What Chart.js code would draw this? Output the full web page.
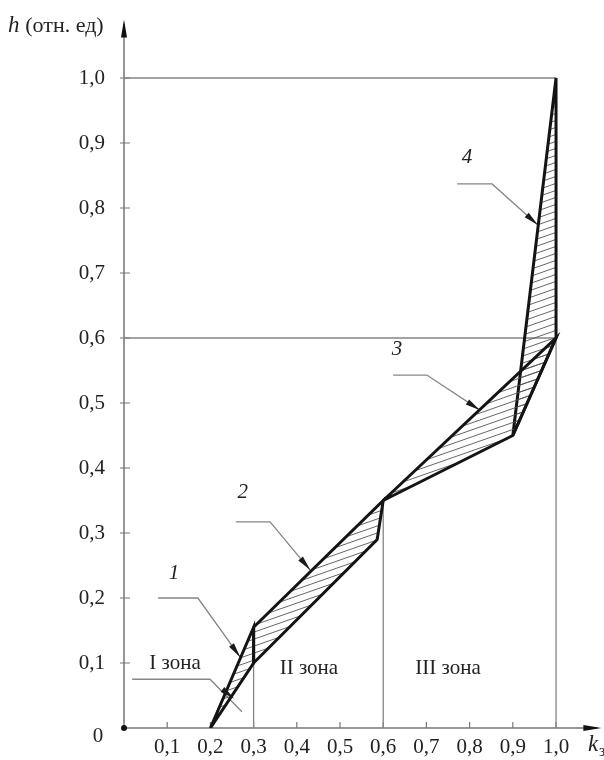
<!DOCTYPE html>
<html>
<head>
<meta charset="utf-8">
<script src="https://cdn.jsdelivr.net/npm/chart.js@4.4.1/dist/chart.umd.min.js"></script>
<style>
    html, body { margin: 0; background: #fff; }
    #wrap { width: 604px; height: 760px; position: relative; }
</style>
</head>
<body>
<div id="wrap"><canvas id="chart"></canvas></div>
<script>
// --- оси и подписи делений ---
const xTicks = [0.1, 0.2, 0.3, 0.4, 0.5, 0.6, 0.7, 0.8, 0.9, 1.0];
const xTickLabels = ['0,1', '0,2', '0,3', '0,4', '0,5', '0,6', '0,7', '0,8', '0,9', '1,0'];
const yTicks = [0.1, 0.2, 0.3, 0.4, 0.5, 0.6, 0.7, 0.8, 0.9, 1.0];
const yTickLabels = ['0,1', '0,2', '0,3', '0,4', '0,5', '0,6', '0,7', '0,8', '0,9', '1,0'];
const X_MAX = 1.105;
const Y_MAX = 1.09;

// --- заштрихованные области 1..4 (k, h), контур замкнут ---
const zone1K = [0.2, 0.3, 0.3, 0.2];
const zone1H = [0, 0.155, 0.1, 0];
const zone2K = [0.3, 0.6, 0.586, 0.3, 0.3];
const zone2H = [0.155, 0.35, 0.29, 0.1, 0.155];
const zone3K = [0.6, 1.0, 0.9, 0.6];
const zone3H = [0.35, 0.6, 0.45, 0.35];
const zone4K = [0.9, 1.0, 1.0, 0.9];
const zone4H = [0.45, 1.0, 0.6, 0.45];

// --- тонкие вспомогательные линии ---
const guideTopK = [0, 1.0];      const guideTopH = [1.0, 1.0];
const guideMidK = [0, 1.0];      const guideMidH = [0.6, 0.6];
const guideRightK = [1.0, 1.0];  const guideRightH = [0, 1.0];
const guide03K = [0.3, 0.3];     const guide03H = [0, 0.155];
const guide06K = [0.6, 0.6];     const guide06H = [0, 0.35];

// --- выноски ---
const leader1K = [0.079, 0.171, 0.269];  const leader1H = [0.2, 0.2, 0.109];
const leader2K = [0.259, 0.338, 0.431];  const leader2H = [0.317, 0.317, 0.243];
const leader3K = [0.623, 0.701, 0.824];  const leader3H = [0.543, 0.543, 0.489];
const leader4K = [0.771, 0.852, 0.958];  const leader4H = [0.837, 0.837, 0.774];
const leaderIK = [0.019, 0.199, 0.273];  const leaderIH = [0.075, 0.075, 0.025];
const arrowTipK = [0.269, 0.431, 0.824, 0.958, 0.255];
const arrowTipH = [0.109, 0.243, 0.489, 0.774, 0.045];

// --- надписи ---
const curveLabels = ['1', '2', '3', '4'];
const curveLabelK = [0.116, 0.275, 0.632, 0.794];
const curveLabelH = [0.237, 0.362, 0.583, 0.877];
const zoneLabels = ['I зона', 'II зона', 'III зона'];
const zoneLabelK = [0.118, 0.428, 0.75];
const zoneLabelH = [0.1, 0.091, 0.091];

const SERIF = "'Liberation Serif', 'DejaVu Serif', serif";
const BOLD = '#141414';
const GRAY = '#858585';

const pts = (ks, hs) => ks.map((k, i) => ({ x: k, y: hs[i] }));

function makeHatch(ctx) {
    const W = 20, H = 7;
    const c = document.createElement('canvas');
    c.width = W; c.height = H;
    const g = c.getContext('2d');
    g.strokeStyle = '#555';
    g.lineWidth = 0.9;
    for (let k = -1; k <= 1; k++) {
        g.beginPath();
        g.moveTo(0, H + k * H);
        g.lineTo(W, k * H);
        g.stroke();
    }
    return ctx.createPattern(c, 'repeat');
}

function arrowHead(ctx, x0, y0, x1, y1, len, half) {
    const a = Math.atan2(y1 - y0, x1 - x0);
    ctx.save();
    ctx.translate(x1, y1);
    ctx.rotate(a);
    ctx.beginPath();
    ctx.moveTo(0, 0);
    ctx.lineTo(-len, -half);
    ctx.lineTo(-len, half);
    ctx.closePath();
    ctx.fill();
    ctx.restore();
}

const canvas = document.getElementById('chart');
const hatch = makeHatch(canvas.getContext('2d'));

function zoneDataset(ks, hs) {
    return {
        data: pts(ks, hs),
        showLine: true,
        fill: 'shape',
        backgroundColor: hatch,
        borderColor: BOLD,
        borderWidth: 3,
        borderJoinStyle: 'miter',
        pointRadius: 0,
        order: 1
    };
}

function thinDataset(ks, hs) {
    return {
        data: pts(ks, hs),
        showLine: true,
        fill: false,
        borderColor: GRAY,
        borderWidth: 1.3,
        pointRadius: 0,
        order: 5
    };
}

// оси, деления, стрелки и надписи
const annotations = {
    id: 'annotations',
    beforeDatasetsDraw(chart) {
        const { ctx, chartArea: a, scales: { x, y } } = chart;
        const x0 = x.getPixelForValue(0), y0 = y.getPixelForValue(0);
        ctx.save();
        ctx.strokeStyle = '#777';
        ctx.lineWidth = 1.5;
        ctx.beginPath();
        ctx.moveTo(x0, y0); ctx.lineTo(a.right - 4, y0);
        ctx.moveTo(x0, y0); ctx.lineTo(x0, a.top + 4);
        ctx.stroke();
        ctx.lineWidth = 1.2;
        ctx.beginPath();
        xTicks.forEach(v => { const px = x.getPixelForValue(v); ctx.moveTo(px, y0); ctx.lineTo(px, y0 - 6); });
        yTicks.forEach(v => { const py = y.getPixelForValue(v); ctx.moveTo(x0 - 4, py); ctx.lineTo(x0 + 6, py); });
        ctx.stroke();
        ctx.fillStyle = '#111';
        arrowHead(ctx, x0, y0, a.right, y0, 18, 3);
        arrowHead(ctx, x0, y0, x0, a.top, 18, 3);
        ctx.beginPath();
        ctx.arc(x0, y0, 3, 0, Math.PI * 2);
        ctx.fill();
        ctx.restore();
    },
    afterDatasetsDraw(chart) {
        const { ctx, scales: { x, y } } = chart;
        const leaders = [[leader1K, leader1H], [leader2K, leader2H], [leader3K, leader3H], [leader4K, leader4H], [leaderIK, leaderIH]];
        ctx.save();
        ctx.fillStyle = '#1a1a1a';
        leaders.forEach(([ks, hs], i) => {
            const px = x.getPixelForValue(ks[1]), py = y.getPixelForValue(hs[1]);
            arrowHead(ctx, px, py, x.getPixelForValue(arrowTipK[i]), y.getPixelForValue(arrowTipH[i]), 15, 3);
        });

        ctx.fillStyle = '#222';
        ctx.textAlign = 'center';
        ctx.textBaseline = 'middle';
        ctx.font = 'italic 21px ' + SERIF;
        curveLabels.forEach((t, i) => ctx.fillText(t, x.getPixelForValue(curveLabelK[i]), y.getPixelForValue(curveLabelH[i])));
        ctx.font = '21px ' + SERIF;
        zoneLabels.forEach((t, i) => ctx.fillText(t, x.getPixelForValue(zoneLabelK[i]), y.getPixelForValue(zoneLabelH[i])));
        ctx.fillText('0', 98, y.getPixelForValue(0) + 8);

        // подписи осей
        ctx.textAlign = 'left';
        ctx.font = 'italic 23px ' + SERIF;
        ctx.fillText('h', 8, 26);
        const hw = ctx.measureText('h ').width;
        ctx.font = '22px ' + SERIF;
        ctx.fillText('(отн. ед)', 8 + hw, 26);
        ctx.font = 'italic 23px ' + SERIF;
        ctx.fillText('k', 588, 745);
        ctx.font = '16px ' + SERIF;
        ctx.fillText('з', 599, 752);
        ctx.restore();
    }
};

new Chart(canvas, {
    type: 'scatter',
    data: {
        datasets: [
            zoneDataset(zone1K, zone1H),
            zoneDataset(zone2K, zone2H),
            zoneDataset(zone3K, zone3H),
            zoneDataset(zone4K, zone4H),
            thinDataset(guideTopK, guideTopH),
            thinDataset(guideMidK, guideMidH),
            thinDataset(guideRightK, guideRightH),
            thinDataset(guide03K, guide03H),
            thinDataset(guide06K, guide06H),
            thinDataset(leader1K, leader1H),
            thinDataset(leader2K, leader2H),
            thinDataset(leader3K, leader3H),
            thinDataset(leader4K, leader4H),
            thinDataset(leaderIK, leaderIH)
        ]
    },
    options: {
        responsive: true,
        maintainAspectRatio: false,
        animation: false,
        layout: { padding: { top: 19.5, right: 2.6, left: 0, bottom: 0 } },
        plugins: { legend: { display: false }, tooltip: { enabled: false } },
        scales: {
            x: {
                type: 'linear',
                min: 0,
                max: X_MAX,
                afterBuildTicks: s => { s.ticks = xTicks.map(v => ({ value: v })); },
                afterFit: s => { s.height = 32; s.paddingLeft = 0; s.paddingRight = 0; },
                grid: { display: false, drawTicks: false },
                border: { display: false },
                ticks: {
                    autoSkip: false,
                    maxRotation: 0,
                    padding: 7,
                    color: '#222',
                    font: { family: SERIF, size: 21 },
                    callback: (v, i) => xTickLabels[i]
                }
            },
            y: {
                type: 'linear',
                min: 0,
                max: Y_MAX,
                afterBuildTicks: s => { s.ticks = yTicks.map(v => ({ value: v })); },
                afterFit: s => { s.width = 124; s.paddingTop = 0; s.paddingBottom = 0; },
                grid: { display: false, drawTicks: false },
                border: { display: false },
                ticks: {
                    autoSkip: false,
                    padding: 19,
                    color: '#222',
                    font: { family: SERIF, size: 21 },
                    callback: (v, i) => yTickLabels[i]
                }
            }
        }
    },
    plugins: [annotations]
});
</script>
</body>
</html>
